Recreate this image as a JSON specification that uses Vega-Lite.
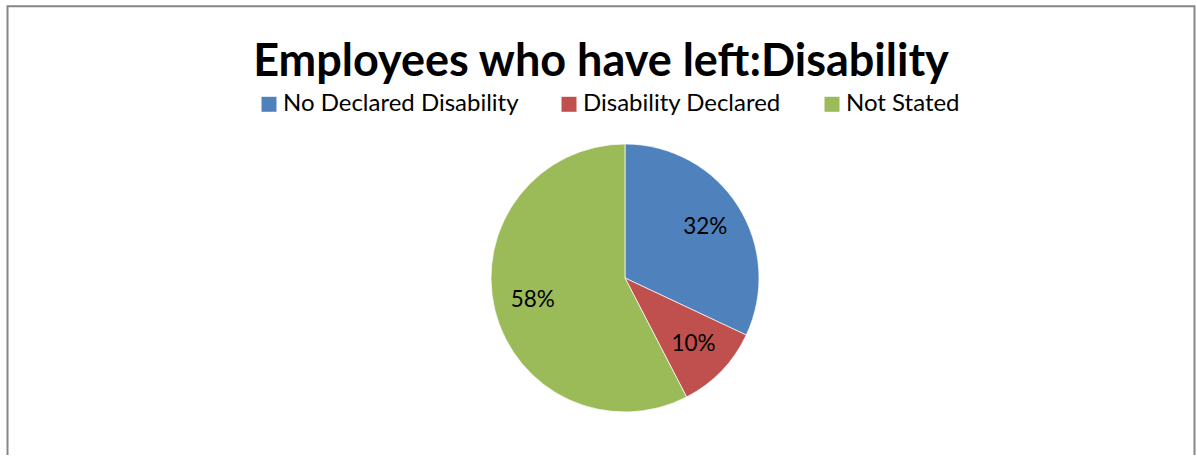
{
  "$schema": "https://vega.github.io/schema/vega-lite/v6.json",
  "width": 1187,
  "height": 452,
  "autosize": {"type": "none"},
  "padding": {"left": 7.5, "top": 6.3, "right": 2.5, "bottom": -3},
  "background": "white",
  "view": {"stroke": "#868686", "strokeWidth": 2, "fill": "white"},
  "title": {
    "text": "Employees who have left:Disability",
    "font": "Lato",
    "fontSize": 45,
    "fontWeight": "bold",
    "color": "#000000",
    "anchor": "middle",
    "orient": "top",
    "offset": -69,
    "dy": 46,
    "baseline": "alphabetic"
  },
  "data": {
    "values": [
      {"category": "No Declared Disability", "share": 0.32, "order": 1},
      {"category": "Disability Declared", "share": 0.104, "order": 2},
      {"category": "Not Stated", "share": 0.576, "order": 3}
    ]
  },
  "encoding": {
    "theta": {"field": "share", "type": "quantitative", "stack": true},
    "order": {"field": "order", "type": "quantitative"}
  },
  "layer": [
    {
      "mark": {"type": "arc", "x": 617.5, "y": 271.7, "radius": 134, "stroke": "#ffffff", "strokeWidth": 0.7},
      "encoding": {
        "color": {
          "field": "category",
          "type": "nominal",
          "scale": {
            "domain": ["No Declared Disability", "Disability Declared", "Not Stated"],
            "range": ["#4F81BD", "#C0504D", "#9BBB59"]
          },
          "legend": {
            "orient": "none",
            "direction": "horizontal",
            "legendX": 249.5,
            "legendY": 86,
            "title": null,
            "padding": 0,
            "symbolType": "square",
            "symbolSize": 225,
            "symbolStrokeWidth": 0,
            "symbolOpacity": 1,
            "labelFont": "Lato",
            "labelFontSize": 24,
            "labelColor": "#000000",
            "labelOffset": 2,
            "columnPadding": 38,
            "labelLimit": 400
          }
        }
      }
    },
    {
      "mark": {"type": "text", "x": 617.5, "y": 271.7, "radius": 95, "font": "Lato", "fontSize": 22.5, "color": "#000000"},
      "encoding": {
        "text": {"field": "share", "type": "quantitative", "format": ".0%"}
      }
    }
  ]
}
